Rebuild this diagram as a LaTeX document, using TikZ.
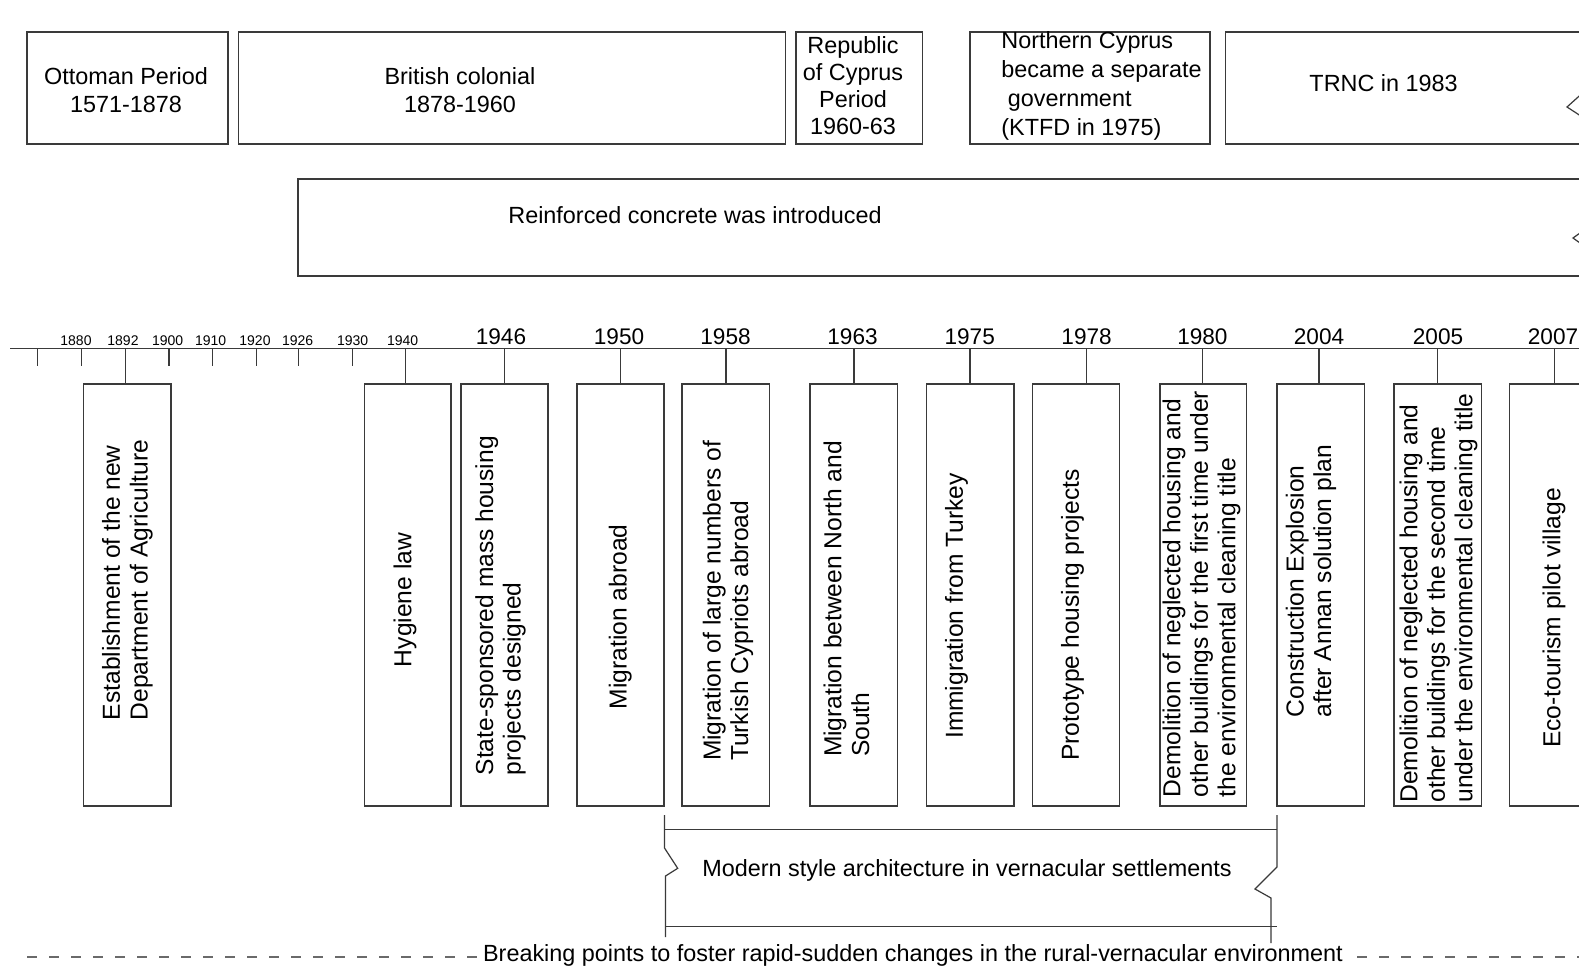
\documentclass[tikz,border=0pt]{standalone}
\usepackage{fontspec}
\setmainfont{Liberation Sans}
\usetikzlibrary{fit}
\definecolor{linecol}{HTML}{3A3A3A}
\definecolor{dashcol}{HTML}{6A6A6A}
\tikzset{
  box/.style={draw=linecol, line width=0.6pt, inner sep=0pt},
  edge/.style={draw=linecol, line width=0.6pt},
  txt/.style={font=\fontsize{11.7}{14}\selectfont, inner sep=0pt, align=center, text=black},
  vtxt/.style={txt, rotate=90, align=left, font=\fontsize{12.3}{13.8}\selectfont},
  yrsmall/.style={font=\fontsize{7}{8}\selectfont, inner sep=0pt},
  yrbig/.style={font=\fontsize{11.3}{13}\selectfont, inner sep=0pt},
  brk/.style={draw=dashcol, line width=0.7pt, dash pattern=on 5pt off 6pt},
}
\begin{document}
\begin{tikzpicture}[x=0.5pt, y=-0.5pt]
\useasboundingbox (0,0) rectangle (1579,970);
\clip (0,0) rectangle (1579,970);
\fill[white] (0,0) rectangle (1579,970);

% ---------- period boxes ----------
\node[box, fit={(27,32)(228,144)}] (ott) {};
\node[box, fit={(238.5,32)(785.5,144)}] (brit) {};
\node[box, fit={(796,32)(922.5,144)}] (rep) {};
\node[box, fit={(970,32)(1210,144)}] (nc) {};
\draw[edge] (1600,32) -- (1225.5,32) -- (1225.5,144) -- (1600,144);
\draw[edge] (1587,89) -- (1567,107) -- (1587,120);

\node[txt] (ottT) at (126,90.6) {Ottoman Period\\1571-1878};
\node[txt] (britT) at (460,90.6) {British colonial\\1878-1960};
\node[txt, font=\fontsize{11.7}{13.4}\selectfont] (repT) at (853,85.6) {Republic\\of Cyprus\\Period\\1960-63};
\node[txt, align=left, anchor=west, font=\fontsize{11.7}{14.5}\selectfont] (ncT) at (1001,86) {Northern Cyprus\\became a separate\\\hspace{0.28em}government\\(KTFD in 1975)};
\node[txt] (trncT) at (1383.6,83.6) {TRNC in 1983};

% ---------- reinforced concrete ----------
\draw[edge] (1600,179) -- (298,179) -- (298,276) -- (1600,276);
\draw[edge] (1587,228) -- (1573,238) -- (1587,248);
\node[txt] (rcT) at (695,215.5) {Reinforced concrete was introduced};

% ---------- timeline ----------
\coordinate (tlA) at (10,348.5);
\coordinate (tlB) at (1579,348.5);
\draw[edge] (tlA) -- (tlB);

\foreach \x in {37.7,81.7,169,212.3,256.3,298.3,352.7}
  \draw[edge] (\x,348.5) -- (\x,366);

\foreach \x/\y in {76/1880,123/1892,167.7/1900,210.7/1910,255/1920,297.7/1926,352.7/1930,402.7/1940}
  \node[yrsmall] (ys\y) at (\x,340.5) {\y};

\foreach \x/\y in {501/1946,619/1950,725.5/1958,852.5/1963,969.7/1975,1086.6/1978,1202.4/1980,1319/2004,1438/2005,1553/2007}
  \node[yrbig] (yb\y) at (\x,337) {\y};

% ---------- event boxes ----------
\foreach \n/\a/\b/\t in {1/83.5/171/125.3, 2/364.5/451/405.3, 3/461/548/504.3, 4/577/664/620.7, 5/682/769.3/726, 6/810/897.5/854, 7/926.4/1014/970, 8/1032.2/1119.8/1086.6, 9/1160/1246.7/1202.4, 10/1277/1364.5/1319, 11/1394/1481.5/1437.7, 12/1509.5/1597/1554.3}{
  \node[box, fit={(\a,384)(\b,806)}] (ev\n) {};
  \coordinate (tk\n) at (\t,348.5);
  \draw[edge] (tk\n) -- (tk\n |- ev\n.north);
}

\node[vtxt] (evT1) at (127.4,580) {Establishment of the new\\Department of Agriculture};
\node[vtxt] (evT2) at (405,600) {Hygiene law};
\node[vtxt] (evT3) at (500.5,605.7) {State-sponsored mass housing\\projects designed};
\node[vtxt] (evT4) at (620.3,616.8) {Migration abroad};
\node[vtxt] (evT5) at (728,601) {Migration of large numbers of\\Turkish Cypriots abroad};
\node[vtxt] (evT6) at (846.4,599) {Migration between North and\\South};
\node[vtxt] (evT7) at (956.6,606) {Immigration from Turkey};
\node[vtxt] (evT8) at (1072.5,615) {Prototype housing projects};
\node[vtxt] (evT9) at (1201.5,594) {Demolition of neglected housing and\\other buildings for the first time under\\the environmental cleaning title};
\node[vtxt] (evT10) at (1311,581) {Construction Explosion\\after Annan solution plan};
\node[vtxt] (evT11) at (1438.5,598) {Demolition of neglected housing and\\other buildings for the second time\\under the environmental cleaning title};
\node[vtxt] (evT12) at (1554,618) {Eco-tourism pilot village};

% ---------- modern style bracket ----------
\draw[edge] (664.5,829.3) -- (1277,829.3);
\draw[edge] (664.5,815) -- (664.5,848) -- (677.7,868.3) -- (665.5,876) -- (665.5,937);
\draw[edge] (665.5,926.5) -- (1277,926.5);
\draw[edge] (1277,815) -- (1277,867) -- (1255,889) -- (1271,898) -- (1271,943);
\node[txt] (modT) at (967,870) {Modern style architecture in vernacular settlements};

% ---------- breaking points ----------
\node[txt, inner xsep=1pt] (brkT) at (913,955.5) {Breaking points to foster rapid-sudden changes in the rural-vernacular environment};
\coordinate (bkA) at (27,957);
\coordinate (bkB) at (1579,957);
\draw[brk] (bkA) -- (bkA -| brkT.west);
\draw[brk] (brkT.east |- bkB) ++(12,0) -- (bkB);
\end{tikzpicture}
\end{document}
